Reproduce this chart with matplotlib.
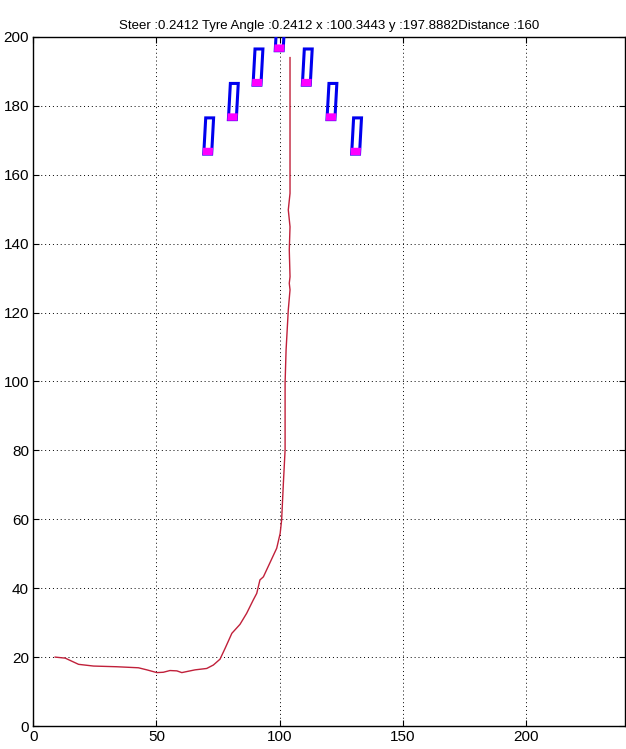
import matplotlib
matplotlib.use("Agg")
import matplotlib.pyplot as plt
from matplotlib.patches import Polygon
import numpy as np

plt.rcParams['font.family'] = ['Liberation Sans Narrow', 'Liberation Sans', 'DejaVu Sans']

title = "Steer :0.2412 Tyre Angle :0.2412 x :100.3443 y :197.8882Distance :160"

# trajectory (red line)
path_x = [8.9, 13.0, 18.4, 24.5, 33.9, 42.7, 46.1, 50.2, 52.8, 55.5, 58.3, 60.3, 62.3,
          65.7, 70.4, 73.1, 75.8, 77.9, 80.6, 83.9, 86.6, 89.3, 90.7, 92.0, 93.4, 98.8,
          100.2, 100.8, 101.5, 102.2, 102.2, 102.6, 103.5, 104.2, 103.9, 104.2, 103.9,
          104.2, 103.5, 104.2, 104.2, 104.2]
path_y = [20.0, 19.7, 17.9, 17.4, 17.2, 16.9, 16.3, 15.5, 15.6, 16.1, 16.0, 15.5, 15.8,
          16.3, 16.7, 17.7, 19.4, 22.6, 26.9, 29.5, 32.7, 36.6, 38.5, 42.4, 43.3, 51.6,
          55.9, 59.8, 70.4, 80.1, 99.5, 109.1, 120.8, 126.6, 128.5, 130.4, 138.2,
          144.9, 149.8, 154.6, 167.2, 194.0]

# car positions (bottom-left corner of each car body)
car_x = [69.2, 79.2, 89.2, 98.2, 109.2, 119.2, 129.2]
car_y = [166.0, 176.0, 186.0, 196.0, 186.0, 176.0, 166.0]
car_w = 3.2
car_h = 10.5
car_shear = 0.8
nose_h = 1.5

xticks = [0, 50, 100, 150, 200]
yticks = [0, 20, 40, 60, 80, 100, 120, 140, 160, 180, 200]

fig = plt.figure(figsize=(6.26, 7.49), dpi=100)
ax = fig.add_axes([0.053, 0.0307, 0.945, 0.92])
ax.set_xlim(0, 240)
ax.set_ylim(0, 200)

ax.plot(path_x, path_y, color='#c0203a', lw=1.0, zorder=3)

for cx, cy in zip(car_x, car_y):
    body = [(cx, cy), (cx + car_w, cy), (cx + car_w + car_shear, cy + car_h),
            (cx + car_shear, cy + car_h)]
    f = nose_h / car_h
    nose = [(cx, cy), (cx + car_w, cy), (cx + car_w + car_shear * f, cy + nose_h),
            (cx + car_shear * f, cy + nose_h)]
    ax.add_patch(Polygon(body, closed=True, facecolor='none', edgecolor='#0000ee',
                         lw=2.2, zorder=4))
    ax.add_patch(Polygon(nose, closed=True, facecolor='#ff00ff', edgecolor='#ff00ff',
                         lw=1.6, zorder=5))

ax.set_xticks(xticks)
ax.set_yticks(yticks)
ax.grid(True, color='black', linestyle=(0, (1, 3)), lw=0.7)
ax.tick_params(direction='in', top=True, right=True, length=4, labelsize=11, pad=3)
for s in ax.spines.values():
    s.set_linewidth(1.0)
ax.set_title(title, fontsize=9.5, pad=6)

fig.savefig("out.png", dpi=100)
